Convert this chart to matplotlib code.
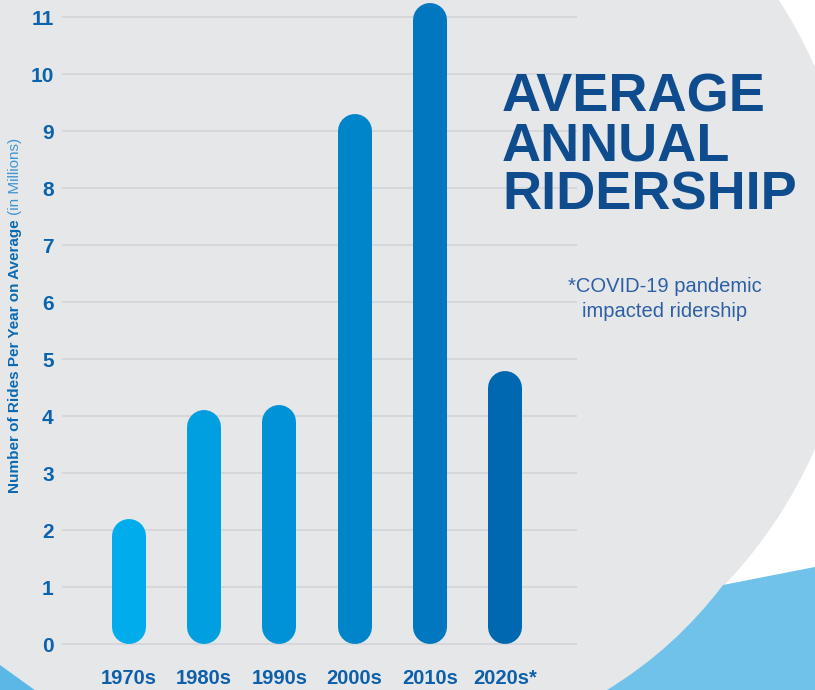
import matplotlib.pyplot as plt
import numpy as np
from matplotlib.path import Path
from matplotlib.patches import PathPatch, Polygon

decades = ['1970s', '1980s', '1990s', '2000s', '2010s', '2020s*']
rides = [2.2, 4.1, 4.2, 9.3, 11.25, 4.8]
bar_colors = ['#00acec', '#009fe0', '#0092d6', '#0085ca', '#0077bf', '#0067b1']
y_ticks = list(range(12))

title_lines = ['AVERAGE', 'ANNUAL', 'RIDERSHIP']
note_lines = ['*COVID-19 pandemic', 'impacted ridership']

W, H = 815, 690
plt.rcParams['font.family'] = ['Liberation Sans', 'DejaVu Sans']

fig = plt.figure(figsize=(W / 100, H / 100), dpi=100)
fig.patch.set_facecolor('#e6e7e9')

# background shapes in pixel space
bg = fig.add_axes([0, 0, 1, 1], zorder=0)
bg.set_xlim(0, W)
bg.set_ylim(H, 0)
bg.axis('off')

cx, cy, r = 380, 258, 475
ys = np.linspace(0, 592, 200)
xs = cx + np.sqrt(np.clip(r ** 2 - (ys - cy) ** 2, 0, None))
white = np.column_stack([np.r_[xs, W + 20, W + 20], np.r_[ys, 592, -10]])
bg.add_patch(Polygon(white, closed=True, fc='white', ec='none'))

verts = [(723, 585), (675, 648.5), (607, 690), (607, 700), (830, 700), (830, 564), (723, 585)]
codes = [Path.MOVETO, Path.CURVE3, Path.CURVE3, Path.LINETO, Path.LINETO, Path.LINETO, Path.CLOSEPOLY]
bg.add_patch(PathPatch(Path(verts, codes), fc='#70c2ea', ec='none'))
bg.add_patch(Polygon([(0, 665), (36, 691), (0, 691)], closed=True, fc='#5ab7e6', ec='none'))

# chart
left_px, right_px, bot_px = 62, 577, 655
zero_px, unit_px, step_px, first_px = 644, 56.97, 75.2, 129
ax = fig.add_axes([left_px / W, 1 - bot_px / H, (right_px - left_px) / W, bot_px / H], zorder=1)
ax.patch.set_alpha(0)
ax.set_xlim((left_px - first_px) / step_px, (right_px - first_px) / step_px)
ax.set_ylim(-(bot_px - zero_px) / unit_px, zero_px / unit_px)
for s in ax.spines.values():
    s.set_visible(False)

ax.set_yticks(y_ticks)
ax.set_yticklabels([str(t) for t in y_ticks], fontsize=15, fontweight='bold', color='#0b63ad')
ax.set_xticks(range(len(decades)))
ax.set_xticklabels(decades, fontsize=14.5, fontweight='bold', color='#0d5fa9')
ax.tick_params(axis='y', length=0, pad=6)
ax.tick_params(axis='x', length=0, pad=10)
ax.yaxis.grid(True, color='#d5d6d9', lw=1.3)
ax.set_axisbelow(True)

bar_px = 34
cap = bar_px / 2 / unit_px
x = np.arange(len(decades))
bars = ax.vlines(x, cap, np.array(rides) - cap, colors=bar_colors, lw=bar_px * 0.72, zorder=3)
bars.set_capstyle('round')

# title and note
for i, line in enumerate(title_lines):
    fig.text(502 / W, 1 - (111 + i * 49.5) / H, line, fontsize=39, fontweight='bold',
             color='#0f4c8e', ha='left', va='baseline')
for i, line in enumerate(note_lines):
    fig.text(665 / W, 1 - (292 + i * 25) / H, line, fontsize=14.5,
             color='#2d5fa4', ha='center', va='baseline')

# y label in two weights
t1 = fig.text(19 / W, 1 - 493 / H, 'Number of Rides Per Year on Average', rotation=90,
              rotation_mode='anchor', ha='left', va='baseline', fontsize=11,
              fontweight='bold', color='#0a6ab3')
fig.canvas.draw()
ext = t1.get_window_extent()
fig.text(19 / W, (ext.y1 + 4) / H, '(in Millions)', rotation=90, rotation_mode='anchor',
         ha='left', va='baseline', fontsize=11, color='#3d95d3')

fig.savefig('out.png', dpi=100, facecolor=fig.get_facecolor())
